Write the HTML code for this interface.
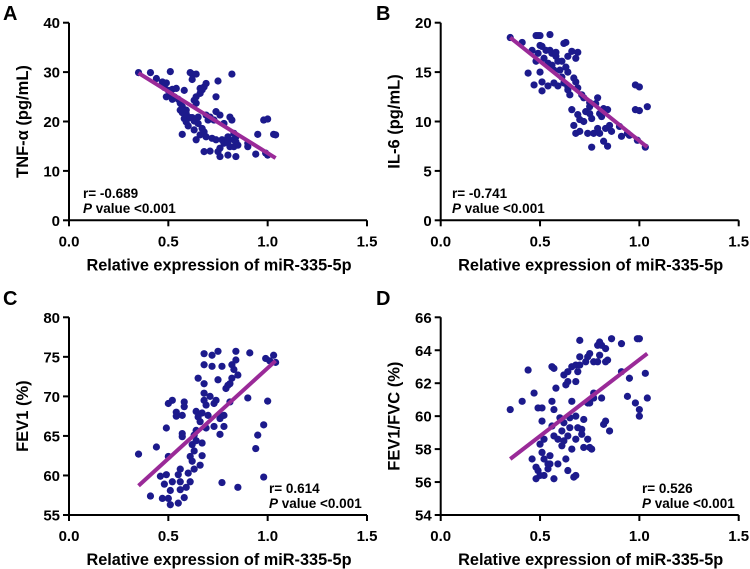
<!DOCTYPE html>
<html><head><meta charset="utf-8"><style>
html,body{margin:0;padding:0;background:#fff;}
svg{display:block;font-family:"Liberation Sans",Arial,sans-serif;font-weight:bold;}
</style></head><body>
<svg id="fig" width="750" height="569" viewBox="0 0 750 569" xmlns="http://www.w3.org/2000/svg"></svg>
<script>
const xTickLabels=["0.0","0.5","1.0","1.5"];
const xTicks=[0,0.5,1.0,1.5];
const aTicks=[0,10,20,30,40];
const bTicks=[0,5,10,15,20];
const cTicks=[55,60,65,70,75,80];
const dTicks=[54,56,58,60,62,64,66];
const aX=[0.35,0.41,0.44,0.47,0.48,0.48,0.49,0.50,0.51,0.51,0.52,0.52,0.54,0.55,0.56,0.57,0.56,0.57,0.58,0.57,0.58,0.59,0.60,0.61,0.62,0.62,0.64,0.63,0.62,0.63,0.64,0.65,0.65,0.63,0.64,0.66,0.67,0.68,0.69,0.66,0.66,0.67,0.68,0.68,0.69,0.70,0.71,0.71,0.72,0.73,0.74,0.75,0.74,0.76,0.75,0.76,0.78,0.77,0.78,0.80,0.76,0.81,0.82,0.82,0.80,0.83,0.84,0.83,0.84,0.85,0.81,0.84,0.83,0.90,0.90,0.95,0.94,0.98,1.00,0.99,1.00,1.03,1.04,0.59,0.61,0.69,0.64,0.49,0.53,0.59,0.74,0.80];
const aY=[29.9,29.9,28.7,28.0,27.4,26.9,27.8,26.3,30.1,25.7,24.5,26.5,26.7,24.5,23.7,23.0,22.3,21.8,20.6,17.4,26.3,19.9,19.1,29.9,29.6,28.5,29.6,20.1,20.8,18.3,16.3,20.9,19.6,24.3,25.0,25.7,26.4,27.0,27.7,26.7,17.3,18.6,17.9,13.9,16.9,20.3,20.9,14.0,16.6,20.3,22.0,28.2,25.0,21.3,13.9,12.9,19.6,16.3,15.6,13.2,14.6,20.9,29.6,20.3,16.9,17.6,16.9,16.3,15.9,15.2,14.9,12.9,14.9,14.9,15.6,17.4,13.4,20.3,20.5,13.6,13.2,17.4,17.3,21.6,20.8,21.3,23.7,25.0,25.0,22.3,16.3,15.9];
const bX=[0.35,0.41,0.44,0.46,0.47,0.48,0.48,0.49,0.50,0.49,0.50,0.50,0.51,0.51,0.51,0.52,0.53,0.54,0.54,0.55,0.55,0.56,0.56,0.57,0.57,0.58,0.58,0.59,0.59,0.60,0.61,0.61,0.62,0.62,0.63,0.63,0.64,0.64,0.64,0.64,0.65,0.66,0.67,0.68,0.69,0.68,0.69,0.66,0.67,0.68,0.69,0.70,0.70,0.71,0.72,0.72,0.73,0.74,0.75,0.75,0.75,0.76,0.76,0.77,0.78,0.79,0.79,0.80,0.80,0.81,0.82,0.82,0.83,0.84,0.84,0.85,0.86,0.90,0.91,0.94,0.95,0.98,1.00,0.98,1.00,0.99,1.03,1.04];
const bY=[18.5,18.0,14.9,17.2,13.7,16.1,18.7,18.7,18.7,16.9,15.0,17.7,17.6,14.0,13.1,16.4,17.2,15.9,13.6,18.8,17.2,15.7,16.9,15.2,13.9,16.6,17.0,16.1,13.6,15.2,16.1,14.5,13.9,17.9,18.0,15.5,13.5,16.6,15.0,13.2,12.7,17.1,14.4,16.4,17.0,14.0,13.4,11.2,9.6,8.8,10.7,9.0,10.2,12.7,12.4,10.0,11.0,8.8,10.8,11.9,11.5,10.3,7.4,8.8,11.8,12.4,9.3,8.8,10.8,10.5,8.0,11.3,9.3,7.5,11.2,9.6,9.0,9.5,8.5,8.8,8.6,13.7,13.5,11.2,11.1,8.1,7.4,11.5];
const cX=[0.35,0.41,0.44,0.46,0.47,0.48,0.49,0.49,0.50,0.50,0.50,0.51,0.52,0.51,0.52,0.54,0.54,0.55,0.55,0.56,0.56,0.56,0.57,0.57,0.57,0.58,0.58,0.58,0.59,0.60,0.61,0.61,0.62,0.62,0.63,0.63,0.63,0.64,0.64,0.64,0.65,0.65,0.66,0.66,0.67,0.67,0.67,0.68,0.68,0.68,0.68,0.68,0.69,0.69,0.70,0.71,0.72,0.72,0.73,0.73,0.74,0.75,0.75,0.76,0.76,0.76,0.77,0.77,0.78,0.78,0.79,0.80,0.81,0.81,0.82,0.82,0.83,0.84,0.84,0.85,0.85,0.90,0.91,0.94,0.95,0.98,0.98,0.99,1.00,1.01,1.03,1.04];
const cY=[62.7,57.4,63.6,59.9,57.1,58.9,66.0,60.1,69.1,57.1,62.4,56.3,69.5,58.1,59.2,67.5,68.0,56.5,60.1,59.2,60.8,58.2,67.6,65.3,64.9,68.7,69.3,57.2,58.5,60.3,62.4,59.2,63.9,61.8,65.1,60.8,63.1,64.4,68.1,65.7,72.3,67.4,66.8,61.3,67.9,62.5,64.1,69.5,75.4,74.0,71.6,70.4,66.0,68.9,67.6,70.0,73.8,75.2,66.2,69.1,69.5,75.7,72.1,67.6,67.2,65.2,73.8,59.1,67.6,66.2,71.0,71.4,69.3,71.6,72.3,74.0,73.4,74.6,75.7,72.7,58.5,69.8,75.5,63.4,65.1,66.4,59.8,74.8,69.4,74.5,75.2,74.3];
const dX=[0.35,0.41,0.44,0.46,0.47,0.48,0.48,0.49,0.49,0.50,0.50,0.51,0.51,0.51,0.52,0.52,0.52,0.54,0.54,0.55,0.55,0.56,0.56,0.56,0.57,0.57,0.57,0.57,0.58,0.59,0.59,0.60,0.61,0.61,0.62,0.62,0.62,0.63,0.63,0.64,0.64,0.64,0.64,0.65,0.65,0.66,0.66,0.66,0.67,0.68,0.68,0.68,0.68,0.68,0.69,0.69,0.70,0.70,0.70,0.71,0.71,0.72,0.72,0.73,0.74,0.74,0.74,0.75,0.75,0.75,0.76,0.77,0.77,0.77,0.79,0.79,0.80,0.80,0.81,0.81,0.82,0.83,0.83,0.83,0.84,0.85,0.86,0.91,0.91,0.94,0.95,0.98,0.99,1.00,1.00,1.00,1.03,1.04];
const dY=[60.4,60.9,62.8,57.4,61.4,56.9,56.2,60.5,56.7,56.4,58.3,60.5,59.7,57.8,57.4,58.6,56.4,56.8,57.1,57.6,57.1,59.4,60.9,63.0,60.4,62.9,56.2,58.8,61.7,58.6,57.1,59.9,58.2,59.1,62.5,59.6,58.5,61.9,57.4,62.1,56.7,62.7,58.8,59.9,59.3,58.0,63.0,60.9,56.3,56.4,63.1,62.1,60.0,58.6,59.3,62.7,63.1,63.6,64.6,59.2,58.9,59.8,58.1,63.3,60.8,63.6,58.6,60.8,63.8,58.1,58.0,61.1,61.4,63.3,64.3,63.3,63.7,64.5,61.1,64.3,59.5,59.7,63.3,64.1,63.4,59.1,64.7,62.7,64.4,61.2,62.3,60.8,64.7,64.7,60.4,60.0,62.6,61.1];
const fitX=[0.35,1.04];
const aFit=[29.8,12.6], bFit=[18.5,7.4], cFit=[58.7,74.5], dFit=[57.4,63.8];

const NS="http://www.w3.org/2000/svg";
const svg=document.getElementById('fig');
function mk(tag,attrs,parent){const e=document.createElementNS(NS,tag);for(const k in attrs)e.setAttribute(k,attrs[k]);(parent||svg).appendChild(e);return e;}

const panels=[
 {id:'a',letter:'A',ox:69,top:22.7,bottom:220.3,ticks:aTicks,xs:aX,ys:aY,fit:aFit,ylabel:'TNF-α (pg/mL)',r:'r= -0.689',ax:83,ay:198,lx:3,ly:20},
 {id:'b',letter:'B',ox:440.7,top:22.7,bottom:220.3,ticks:bTicks,xs:bX,ys:bY,fit:bFit,ylabel:'IL-6 (pg/mL)',r:'r= -0.741',ax:452,ay:198,lx:376,ly:20},
 {id:'c',letter:'C',ox:69,top:317.3,bottom:515,ticks:cTicks,xs:cX,ys:cY,fit:cFit,ylabel:'FEV1 (%)',r:'r= 0.614',ax:269,ay:493,lx:3,ly:305},
 {id:'d',letter:'D',ox:440.7,top:317.3,bottom:515,ticks:dTicks,xs:dX,ys:dY,fit:dFit,ylabel:'FEV1/FVC (%)',r:'r= 0.526',ax:642,ay:493,lx:376,ly:305}
];
panels.forEach(p=>{
  const g=mk('g',{});
  
  
  const xw=298;
  const ymin=p.ticks[0], ymax=p.ticks[p.ticks.length-1];
  const sx=v=>p.ox+v/1.5*xw;
  const sy=v=>p.bottom-(v-ymin)/(ymax-ymin)*(p.bottom-p.top);
  const lt=mk('text',{x:p.lx,y:p.ly,'font-size':20,fill:'#000'},g);lt.textContent=p.letter;
  
  const ya=mk('line',{x1:p.ox,y1:p.top,x2:p.ox,y2:p.bottom,stroke:'#000','stroke-width':2},g);
  
  const xa=mk('line',{x1:p.ox-1,y1:p.bottom,x2:p.ox+xw,y2:p.bottom,stroke:'#000','stroke-width':2},g);
  
  p.ticks.forEach(t=>{
    mk('line',{x1:p.ox-6,y1:sy(t),x2:p.ox,y2:sy(t),stroke:'#000','stroke-width':2},g);
    const tx=mk('text',{x:p.ox-9,y:sy(t)+5.5,'font-size':15,'text-anchor':'end',fill:'#000'},g);
    tx.textContent=String(t);
    
  });
  xTicks.forEach((t,i)=>{
    mk('line',{x1:sx(t),y1:p.bottom,x2:sx(t),y2:p.bottom+6,stroke:'#000','stroke-width':2},g);
    const tx=mk('text',{x:sx(t),y:p.bottom+26,'font-size':15,'text-anchor':'middle',fill:'#000'},g);
    tx.textContent=xTickLabels[i];
    
  });
  const xt=mk('text',{x:p.ox+xw/2+1,y:p.bottom+50,'font-size':16.3,'text-anchor':'middle',fill:'#000'},g);
  xt.textContent='Relative expression of miR-335-5p';
  
  const cy=(p.top+p.bottom)/2, cx=p.ox-41;
  const yt=mk('text',{x:cx,y:cy,'font-size':16.5,'text-anchor':'middle',fill:'#000',transform:`rotate(-90 ${cx} ${cy})`},g);
  yt.textContent=p.ylabel;
  
  p.xs.forEach((v,i)=>{
    const c=mk('circle',{cx:sx(v),cy:sy(p.ys[i]),r:3.6,fill:'#1c1a8c'},g);
    
    
  });
  const fl=mk('line',{x1:sx(fitX[0]),y1:sy(p.fit[0]),x2:sx(fitX[1]),y2:sy(p.fit[1]),stroke:'#9a2a98','stroke-width':4},g);
  
  const r=mk('text',{x:p.ax,y:p.ay,'font-size':13.5,fill:'#000'},g);r.textContent=p.r;
  
  const pv=mk('text',{x:p.ax,y:p.ay+15,'font-size':13.5,fill:'#000'},g);
  pv.innerHTML='<tspan font-style="italic">P</tspan> value &lt;0.001';
  
});
</script>
</body></html>
